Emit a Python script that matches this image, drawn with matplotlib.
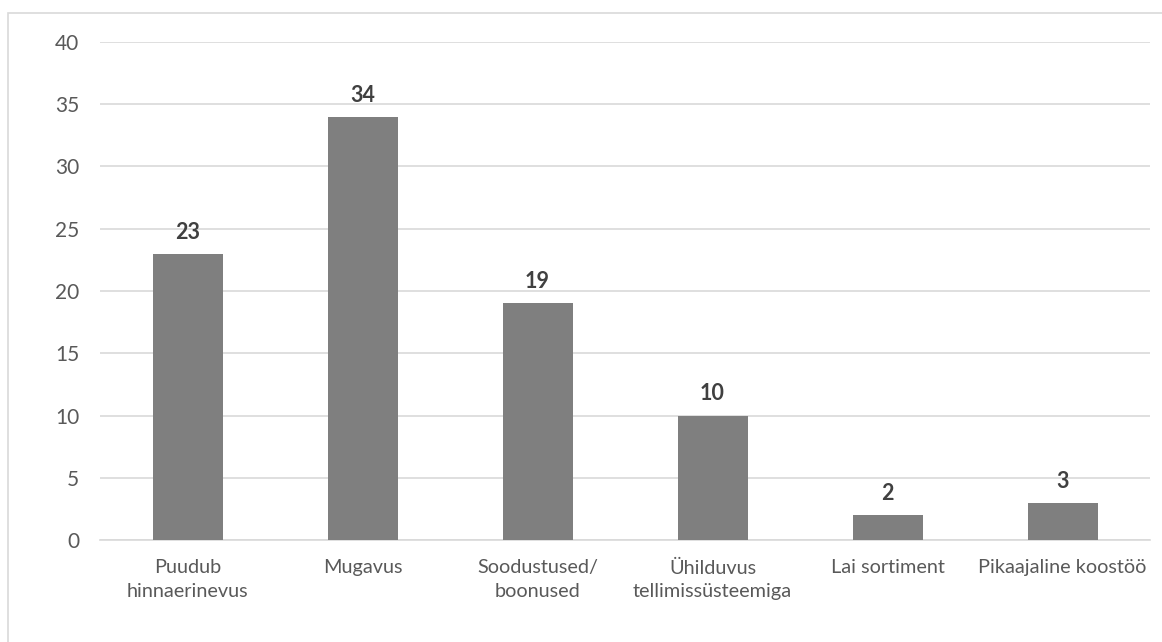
import matplotlib
matplotlib.use("Agg")
import matplotlib.pyplot as plt
from matplotlib.patches import Rectangle

# data
categories = ["Puudub\nhinnaerinevus", "Mugavus", "Soodustused/\nboonused",
              "Ühilduvus\ntellimissüsteemiga", "Lai sortiment", "Pikaajaline koostöö"]
values = [23, 34, 19, 10, 2, 3]
y_ticks = [0, 5, 10, 15, 20, 25, 30, 35, 40]

W, H = 1162, 642
plt.rcParams["font.family"] = ["Lato", "DejaVu Sans"]

fig = plt.figure(figsize=(W / 100, H / 100), dpi=100)
# light chart-area border (right/bottom edges fall outside the picture)
fig.patches.append(Rectangle((8 / W, 0 - 0.01), 1.0, 1 - 13 / H + 0.01,
                             transform=fig.transFigure, fill=False,
                             edgecolor="#d9d9d9", linewidth=1.2))

ax = fig.add_axes([100 / W, 1 - 540 / H, 1050 / W, 498 / H])
x = range(len(categories))
bars = ax.bar(x, values, width=0.4, color="#7f7f7f", zorder=3)

for b, v in zip(bars, values):
    ax.annotate(str(v), (b.get_x() + b.get_width() / 2, v),
                xytext=(0, 8), textcoords="offset points",
                ha="center", va="bottom", fontsize=15.5, fontweight="bold",
                color="#404040")

ax.set_xlim(-0.5, len(categories) - 0.5)
ax.set_ylim(0, 40)
ax.set_yticks(y_ticks)
ax.set_xticks(list(x))
ax.set_xticklabels(categories, fontsize=14.3, color="#595959", linespacing=1.45)
ax.tick_params(axis="y", labelsize=15, labelcolor="#595959", length=0, pad=15)
ax.tick_params(axis="x", length=0, pad=14)
ax.grid(axis="y", color="#d9d9d9", linewidth=1.2, zorder=0)
for s in ["top", "right", "left"]:
    ax.spines[s].set_visible(False)
ax.spines["bottom"].set_color("#d9d9d9")
ax.spines["bottom"].set_linewidth(1.2)

fig.savefig("out.png", dpi=100)
